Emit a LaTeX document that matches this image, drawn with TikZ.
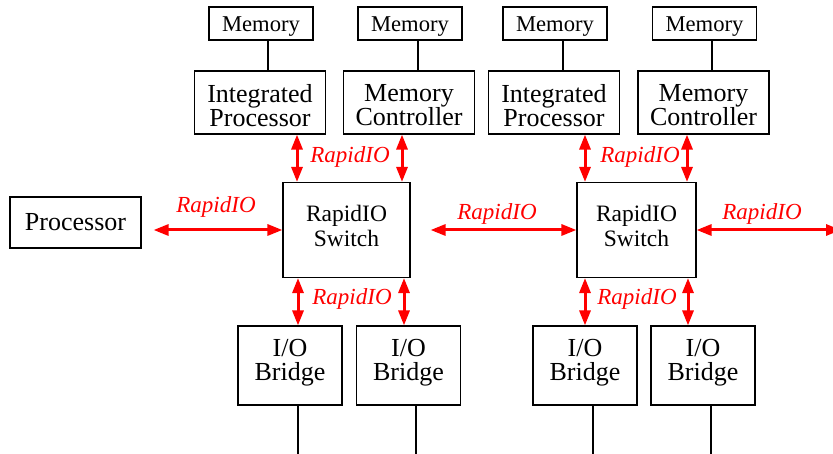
\documentclass[tikz,border=0pt]{standalone}
\usepackage{fontspec}
\setmainfont{Liberation Serif}
\newfontfamily\boxfont{Liberation Serif}
\usetikzlibrary{arrows.meta}

\begin{document}
\begin{tikzpicture}[x=1pt,y=-1pt,
  txt/.style={inner sep=0pt,align=center,font=\boxfont\fontsize{26}{24}\selectfont},
  box/.style={draw,line width=1.1pt,inner sep=0pt},
  membox/.style={box,minimum width=104pt,minimum height=33pt,
              label={[txt,font=\boxfont\fontsize{22.6}{23}\selectfont,yshift=-3.5pt]center:#1}},
  cpubox/.style={box,minimum width=131pt,minimum height=63pt,
              label={[txt,yshift=-6.5pt]center:#1\strut}},
  iobox/.style={box,minimum width=104pt,minimum height=79pt,
              label={[txt,font=\boxfont\fontsize{26}{23.7}\selectfont,yshift=2.5pt]center:#1}},
  swbox/.style={box,minimum height=95pt,
              label={[txt,font=\boxfont\fontsize{23.5}{25}\selectfont,yshift=3.8pt]center:#1}},
  wire/.style={line width=1.1pt},
  rio/.style={draw=red,line width=3pt,
              {Triangle[length=15pt,width=11pt]}-{Triangle[length=15pt,width=11pt]}},
  riolabel/.style={text=red,inner sep=0pt,font=\boxfont\itshape\fontsize{23}{23}\selectfont}]
\useasboundingbox (0,0) rectangle (833,454);

% processor on the left
\node[box,minimum width=131pt,minimum height=51pt,txt] (proc) at (75.5,222.5) {Processor};

% switches
\node[swbox={RapidIO\\Switch},minimum width=127pt] (sw1) at (346.5,230) {};
\node[swbox={RapidIO\\Switch},minimum width=119pt] (sw2) at (636.5,230) {};

% top row: memories
\node[membox=Memory] (mem1) at (261,23.5) {};
\node[membox=Memory] (mem2) at (410,23.5) {};
\node[membox=Memory] (mem3) at (555,23.5) {};
\node[membox=Memory] (mem4) at (704.5,23.5) {};

% processors and memory controllers
\node[cpubox={Integrated\\Processor}] (ip1) at (260,102.5) {};
\node[cpubox={Memory\\Controller}] (mc1) at (409,102.5) {};
\node[cpubox={Integrated\\Processor}] (ip2) at (554,102.5) {};
\node[cpubox={Memory\\Controller}] (mc2) at (703.5,102.5) {};

% I/O bridges
\node[iobox={I/O\\Bridge}] (io1) at (290,365.5) {};
\node[iobox={I/O\\Bridge}] (io2) at (408.5,365.5) {};
\node[iobox={I/O\\Bridge}] (io3) at (585,365.5) {};
\node[iobox={I/O\\Bridge}] (io4) at (703,365.5) {};

% loose ends of the bridge buses
\coordinate (b1) at (298,454);
\coordinate (b2) at (416,454);
\coordinate (b3) at (593,454);
\coordinate (b4) at (711,454);
\coordinate (far) at (841,230);

% memory links
\draw[wire] (mem1.south -| 268,0) -- (ip1.north -| 268,0);
\draw[wire] (mem2.south -| 418,0) -- (mc1.north -| 418,0);
\draw[wire] (mem3.south -| 563,0) -- (ip2.north -| 563,0);
\draw[wire] (mem4.south -| 712,0) -- (mc2.north -| 712,0);

% bridge buses
\draw[wire] (io1.south -| b1) -- (b1);
\draw[wire] (io2.south -| b2) -- (b2);
\draw[wire] (io3.south -| b3) -- (b3);
\draw[wire] (io4.south -| b4) -- (b4);

% RapidIO links
\draw[rio,shorten <=12pt] (proc.east |- sw1.west) -- (sw1.west);
\draw[rio,shorten <=20pt] (sw1.east) -- (sw2.west);
\draw[rio] (sw2.east) -- (far);

\draw[rio] (ip1.south -| 297,0) -- (sw1.north -| 297,0);
\draw[rio] (mc1.south -| 402,0) -- (sw1.north -| 402,0);
\draw[rio] (ip2.south -| 585,0) -- (sw2.north -| 585,0);
\draw[rio] (mc2.south -| 687,0) -- (sw2.north -| 687,0);

\draw[rio] (sw1.south -| 298,0) -- (io1.north -| 298,0);
\draw[rio] (sw1.south -| 404,0) -- (io2.north -| 404,0);
\draw[rio] (sw2.south -| 585,0) -- (io3.north -| 585,0);
\draw[rio] (sw2.south -| 688,0) -- (io4.north -| 688,0);

% link labels
\node[riolabel] (l1) at (216,207) {RapidIO};
\node[riolabel] (l2) at (350,157) {RapidIO};
\node[riolabel] (l3) at (640,157) {RapidIO};
\node[riolabel] (l4) at (497,214) {RapidIO};
\node[riolabel] (l5) at (762,214) {RapidIO};
\node[riolabel] (l6) at (352,299) {RapidIO};
\node[riolabel] (l7) at (637,299) {RapidIO};
\end{tikzpicture}
\end{document}
